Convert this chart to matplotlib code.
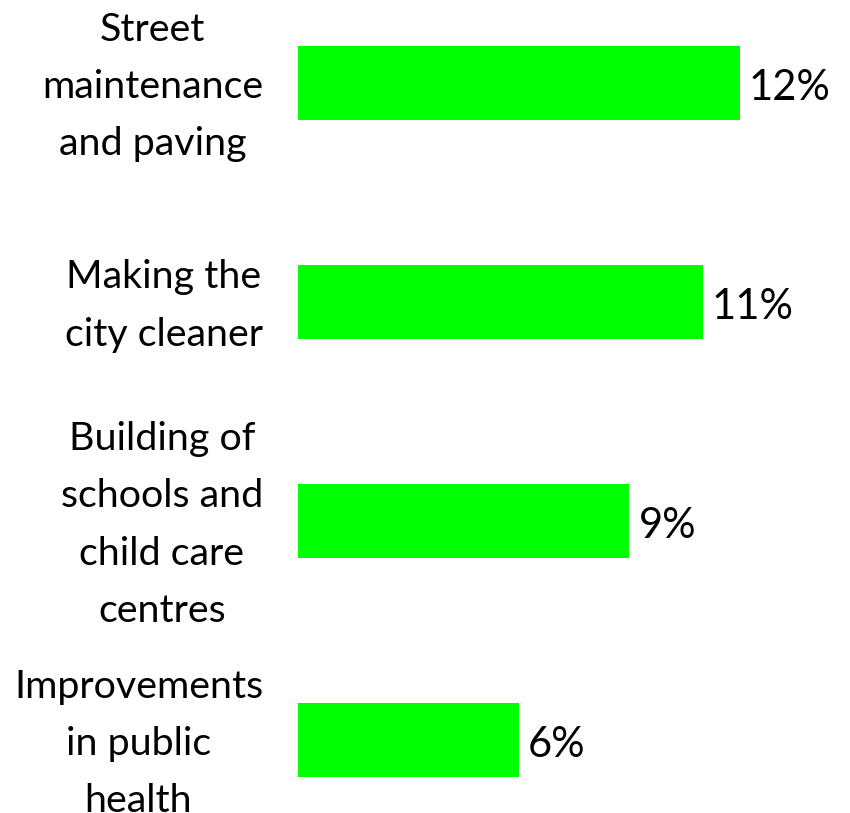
import matplotlib.pyplot as plt
from matplotlib.transforms import ScaledTranslation

# Share of respondents naming each priority
categories = [
    "Street\nmaintenance\nand paving",
    "Making the\ncity cleaner",
    "Building of\nschools and\nchild care\ncentres",
    "Improvements\nin public\nhealth",
]
shares = [12, 11, 9, 6]
value_labels = ["12%", "11%", "9%", "6%"]

plt.rcParams['font.family'] = ['Lato', 'DejaVu Sans']

fig = plt.figure(figsize=(8.5, 8.13), dpi=100)
ax = fig.add_axes([298 / 850, 0, 1 - 298 / 850, 1])

pos = list(range(len(categories)))
bars = ax.barh(pos, shares, height=0.342, color='#00ff00')

# value labels sit a touch below the bar centre
down = ScaledTranslation(0, -5 / 100, fig.dpi_scale_trans)
for bar, txt in zip(bars, value_labels):
    ax.text(bar.get_width() + 0.25, bar.get_y() + bar.get_height() / 2, txt,
            va='center', ha='left', fontsize=30, color='black',
            transform=ax.transData + down)

# category labels: right-aligned block, centred lines, left of the axis
shift = ScaledTranslation(-35 / 100, -4 / 100, fig.dpi_scale_trans)
for p, name in zip(pos, categories):
    ax.text(0, p, name, ha='right', va='center', multialignment='center',
            fontsize=28.4, linespacing=1.73,
            transform=ax.get_yaxis_transform() + shift)

ax.set_xticks([])
ax.set_yticks([])
ax.set_xlim(0, 15)
ax.set_ylim(3 + 73 / 219, -83 / 219)
for s in ax.spines.values():
    s.set_visible(False)

fig.savefig('out.png', dpi=100)
